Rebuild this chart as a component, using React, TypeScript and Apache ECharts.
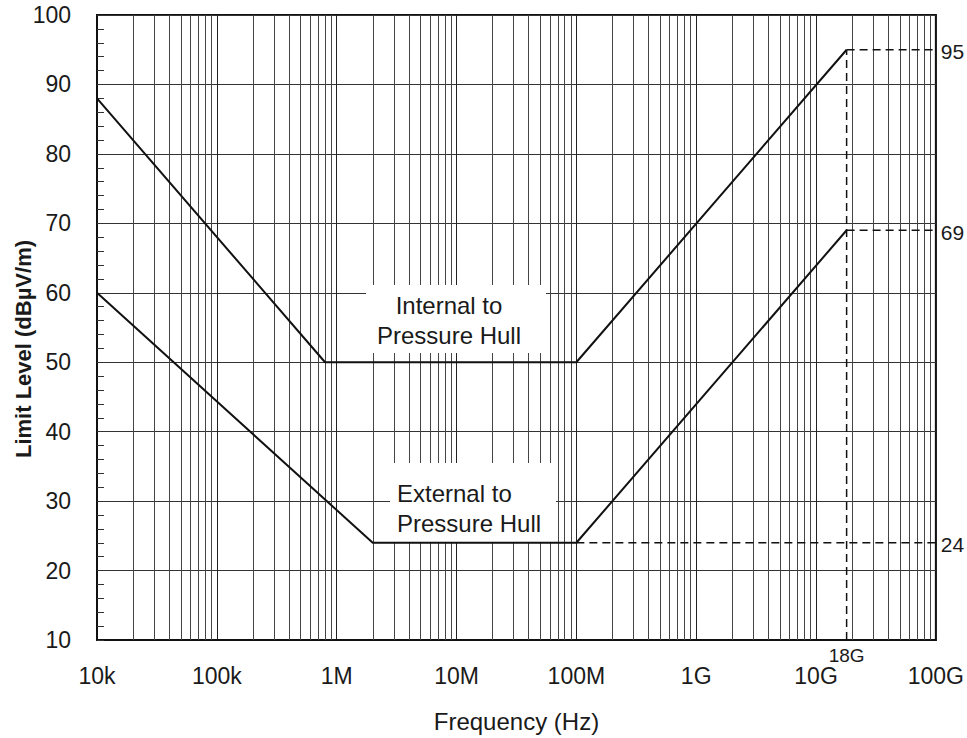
import React, { useEffect, useRef } from "react";
import * as echarts from "echarts";

// Frequency axis decades and their labels
const freqTickValues = [1e4, 1e5, 1e6, 1e7, 1e8, 1e9, 1e10, 1e11];
const freqTickLabels = ["10k", "100k", "1M", "10M", "100M", "1G", "10G", "100G"];

// Limit curves (frequency in Hz, level in dBµV/m)
const internalFreq = [1e4, 8e5, 1e8, 1.8e10];
const internalLevel = [88, 50, 50, 95];
const externalFreq = [1e4, 2e6, 1e8, 1.8e10];
const externalLevel = [60, 24, 24, 69];

// Reference markers
const cornerFreq = 1.8e10;
const cornerLabel = "18G";
const refLevels = [95, 69, 24];
const refStartFreq = [1.8e10, 1.8e10, 1e8];

const FONT = '"Liberation Sans", Arial, Helvetica, sans-serif';
const INK = "#1a1a1a";

export default function App() {
  const ref = useRef<HTMLDivElement>(null);

  useEffect(() => {
    const chart = echarts.init(ref.current!, null, { renderer: "svg" });
    const zip = (xs: number[], ys: number[]) => xs.map((x, i) => [x, ys[i]]);
    const xMin = freqTickValues[0];
    const xMax = freqTickValues[freqTickValues.length - 1];

    // 2..9 sub-decade grid lines of the log frequency axis
    const minorGrid: { xAxis: number }[] = [];
    for (let e = 4; e < 11; e++) {
      for (let m = 2; m <= 9; m++) minorGrid.push({ xAxis: m * Math.pow(10, e) });
    }

    const dashedStyle = { color: "#111", width: 1.5, type: [8, 5] as any };
    const dashedSeries: any[] = refLevels.map((lvl, i) => ({
      type: "line",
      silent: true,
      symbol: "none",
      z: 10,
      lineStyle: dashedStyle,
      data: [
        [refStartFreq[i], lvl],
        [xMax, lvl],
      ],
    }));
    dashedSeries.push({
      type: "line",
      silent: true,
      symbol: "none",
      z: 10,
      lineStyle: dashedStyle,
      data: [
        [cornerFreq, 10],
        [cornerFreq, refLevels[0]],
      ],
    });

    const option: any = {
      animation: false,
      backgroundColor: "#fff",
      grid: {
        left: 97,
        right: 31,
        top: 15,
        bottom: 96,
        show: true,
        borderColor: "#111",
        borderWidth: 2,
      },
      xAxis: {
        type: "log",
        logBase: 10,
        min: xMin,
        max: xMax,
        splitNumber: 7,
        axisLine: { show: true, lineStyle: { color: "#111", width: 2 } },
        axisTick: { show: false },
        minorTick: { show: false },
        splitLine: { show: true, lineStyle: { color: "#222", width: 1 } },
        axisLabel: {
          margin: 24,
          color: INK,
          fontSize: 23,
          fontFamily: FONT,
          formatter: (v: number) => {
            const idx = freqTickValues.findIndex(
              (t) => Math.abs(Math.log10(t) - Math.log10(v)) < 1e-6
            );
            return idx >= 0 ? freqTickLabels[idx] : "";
          },
        },
        name: "Frequency (Hz)",
        nameLocation: "middle",
        nameGap: 69,
        nameTextStyle: { color: INK, fontSize: 24, fontFamily: FONT },
      },
      yAxis: {
        type: "value",
        min: 10,
        max: 100,
        interval: 10,
        axisLine: { show: true, lineStyle: { color: "#111", width: 2 } },
        axisTick: { show: true, inside: true, length: 7, lineStyle: { color: "#333" } },
        minorTick: { show: true, splitNumber: 5, length: 7, lineStyle: { color: "#333", width: 1 } },
        splitLine: { show: true, lineStyle: { color: "#333", width: 1 } },
        axisLabel: { margin: 26, color: INK, fontSize: 23, fontFamily: FONT },
      },
      series: [
        {
          type: "line",
          silent: true,
          data: [],
          markLine: {
            z: 1,
            silent: true,
            animation: false,
            symbol: "none",
            label: { show: false },
            lineStyle: { color: "#444", width: 1, type: "solid" },
            emphasis: { disabled: true },
            data: minorGrid,
          },
        },
        {
          type: "line",
          name: "Internal to Pressure Hull",
          silent: true,
          symbol: "none",
          z: 10,
          lineStyle: { color: "#111", width: 2 },
          data: zip(internalFreq, internalLevel),
        },
        {
          type: "line",
          name: "External to Pressure Hull",
          silent: true,
          symbol: "none",
          z: 10,
          lineStyle: { color: "#111", width: 2 },
          data: zip(externalFreq, externalLevel),
        },
        ...dashedSeries,
      ],
    };

    chart.setOption(option);

    const px = (x: number, y: number) =>
      chart.convertToPixel({ gridIndex: 0 }, [x, y]) as number[];

    const textStyle = (text: string, size: number, align: string, extra: any = {}) => ({
      text,
      font: `${extra.bold ? "bold " : ""}${size}px ${FONT}`,
      fill: INK,
      align,
      textAlign: align,
      verticalAlign: "middle",
      textVerticalAlign: "middle",
    });

    const graphics: any[] = [];

    // White label panels over the grid
    graphics.push({
      type: "rect",
      z: 5,
      silent: true,
      shape: { x: 366, y: 285, width: 180, height: 68 },
      style: { fill: "#fff" },
    });
    graphics.push({
      type: "text",
      z: 6,
      silent: true,
      x: 449,
      y: 305,
      style: textStyle("Internal to", 24, "center"),
    });
    graphics.push({
      type: "text",
      z: 6,
      silent: true,
      x: 449,
      y: 335,
      style: textStyle("Pressure Hull", 24, "center"),
    });
    graphics.push({
      type: "rect",
      z: 5,
      silent: true,
      shape: { x: 390, y: 463, width: 166, height: 80 },
      style: { fill: "#fff" },
    });
    graphics.push({
      type: "text",
      z: 6,
      silent: true,
      x: 397,
      y: 493,
      style: textStyle("External to", 24, "left"),
    });
    graphics.push({
      type: "text",
      z: 6,
      silent: true,
      x: 397,
      y: 523,
      style: textStyle("Pressure Hull", 24, "left"),
    });

    // Y axis title
    graphics.push({
      type: "text",
      z: 6,
      silent: true,
      x: 23,
      y: 349,
      rotation: Math.PI / 2,
      style: textStyle("Limit Level (dBµV/m)", 22, "center", { bold: true }),
    });

    // Reference level labels at the right edge
    refLevels.forEach((lvl) => {
      const p = px(xMax, lvl);
      graphics.push({
        type: "text",
        z: 6,
        silent: true,
        x: p[0] + 5,
        y: p[1] + 2,
        style: textStyle(String(lvl), 21, "left"),
      });
    });

    // Corner frequency label under the plot
    const c = px(cornerFreq, 10);
    graphics.push({
      type: "text",
      z: 6,
      silent: true,
      x: c[0],
      y: c[1] + 15,
      style: textStyle(cornerLabel, 19, "center"),
    });

    chart.setOption({ graphic: graphics });

    return () => chart.dispose();
  }, []);

  return (
    <div
      ref={ref}
      style={{ position: "fixed", left: 0, top: 0, width: 967, height: 738, background: "#fff" }}
    />
  );
}
